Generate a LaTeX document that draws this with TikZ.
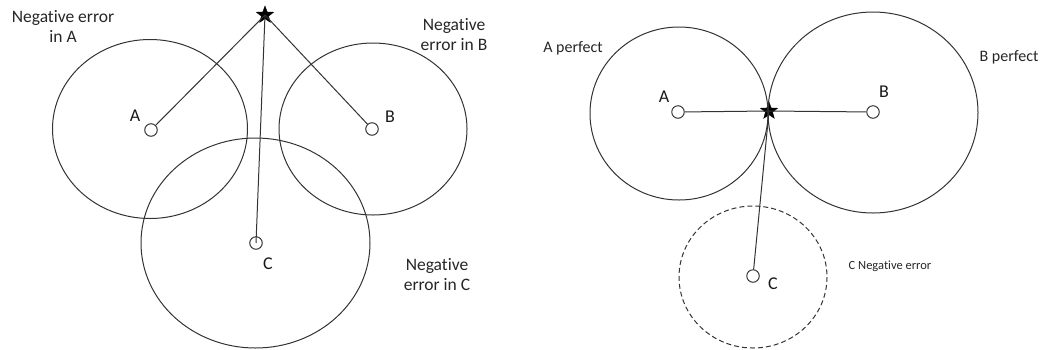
\documentclass[tikz,border=0pt]{standalone}
\usepackage{fontspec}
\setmainfont{Carlito}[Ligatures=NoCommon]
\usetikzlibrary{shapes.geometric}
\definecolor{ln}{HTML}{333333}
\tikzset{
  pt/.style={circle,draw=ln,line width=1pt,minimum size=12.5pt,inner sep=0pt},
  starn/.style={star,star points=5,star point ratio=2.4,fill=black,draw=black,minimum size=18pt,inner sep=0pt},
  ring/.style={draw=ln,line width=1pt},
  conn/.style={draw=ln,line width=1pt},
  lbl/.style={font=\fontsize{17.5}{20}\selectfont,text=black!85,align=center,inner sep=0pt},
  ptl/.style={font=\fontsize{18}{20}\selectfont,text=black!90,inner sep=0pt},
}
\begin{document}
\begin{tikzpicture}[x=1pt,y=-1pt]
\useasboundingbox (0,0) rectangle (1043,349);
% ---------- left panel ----------
\node[pt] (la) at (151,130) {};
\node[pt] (lb) at (372,129) {};
\node[pt] (lc) at (256,243) {};
\node[starn] (ls) at (265,15) {};
\draw[ring] (150,129) ellipse [x radius=97.5, y radius=89.5];
\draw[ring] (373,129) ellipse [x radius=94, y radius=86];
\draw[ring] (255.5,243) ellipse [x radius=114.5, y radius=105];
\draw[conn] (ls.center) -- (la);
\draw[conn] (ls.center) -- (lb);
\draw[conn] (ls.center) -- (lc.center);
\node[ptl] (lal) at (135,116) {A};
\node[ptl] (lbl) at (390,117) {B};
\node[ptl] (lcl) at (268,264) {C};
\node[lbl] (lta) at (63,26) {Negative error\\in A};
\node[lbl] (ltb) at (454,35) {Negative\\error in B};
\node[lbl] (ltc) at (437,275) {Negative\\error in C};
% ---------- right panel ----------
\node[pt] (ra) at (678,112) {};
\node[pt] (rb) at (873,112) {};
\node[pt] (rc) at (753,276) {};
\node[starn] (rs) at (769,111) {};
\draw[ring] (679,113.5) ellipse [x radius=89, y radius=86.5];
\draw[ring] (873,112.5) ellipse [x radius=105, y radius=100.5];
\draw[ring,dashed,dash pattern=on 5pt off 3pt] (753,277) ellipse [x radius=74, y radius=71];
\draw[conn] (rs.center) -- (ra);
\draw[conn] (rs.center) -- (rb);
\draw[conn] (rs.center) -- (rc);
\node[ptl] (ral) at (664,97) {A};
\node[ptl] (rbl) at (884,92) {B};
\node[ptl] (rcl) at (773,284) {C};
\node[lbl,font=\fontsize{16}{19}\selectfont] (rta) at (573,48) {A perfect};
\node[lbl,font=\fontsize{16}{19}\selectfont] (rtb) at (1009,57) {B perfect};
\node[lbl,font=\fontsize{12.5}{15}\selectfont] (rtc) at (890,266) {C Negative error};
\end{tikzpicture}
\end{document}
